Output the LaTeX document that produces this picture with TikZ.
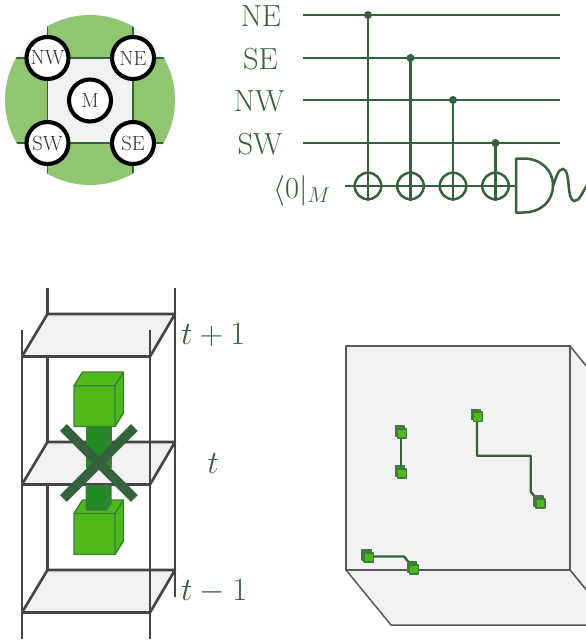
\RequirePackage{fix-cm}
\documentclass[tikz,border=0pt]{standalone}
\definecolor{wire}{HTML}{35613C}
\definecolor{plate}{HTML}{F2F2F2}
\definecolor{leaf}{HTML}{90C572}
\definecolor{frame}{HTML}{444444}
\definecolor{cubeG}{HTML}{4DB818}
\definecolor{cubeE}{HTML}{3F7A3F}
\definecolor{colG}{HTML}{228B22}
\tikzset{
  qubit/.style={circle,draw=black,line width=4.1pt,fill=white,minimum size=42pt,inner sep=0pt,text=black!80,font=\fontsize{20.5}{21}\selectfont},
  wireline/.style={draw=wire,line width=2.5pt},
  ctrl/.style={circle,fill=wire,inner sep=0pt,minimum size=8pt},
  xorgate/.style={circle,draw=wire,line width=2.5pt,inner sep=0pt,minimum size=26.5pt},
  biglabel/.style={text=wire,inner sep=0pt,font=\fontsize{30.5}{31}\selectfont},
  timelabel/.style={text=wire,inner sep=0pt,font=\fontsize{32.5}{33}\selectfont},
  plane/.style={fill=plate,draw=frame,line width=2.6pt,line join=round},
  post/.style={draw=frame,line width=2.6pt},
  cubeface/.style={fill=cubeG,draw=cubeE,line width=1.4pt,line join=round},
  colface/.style={fill=colG,draw=cubeE,line width=1.4pt,line join=round},
  boxface/.style={fill=plate,draw=black!65,line width=1.5pt,line join=round},
  route/.style={draw=wire,line width=2.4pt,line join=round},
  mini/.style={fill=cubeG,draw=cubeE,line width=1.4pt,line join=round},
  minihalo/.style={fill=cubeE,draw=cubeE,line width=1.4pt,line join=round},
  cross/.style={draw=wire,line width=9.5pt},
}
\newcommand{\minicube}[2]{%
  \filldraw[minihalo] (#1-6.6,#2-7.4) rectangle (#1+2.6,#2+2.6);
  \filldraw[mini] (#1-4.6,#2-4.6) rectangle (#1+4.6,#2+4.6);}
\begin{document}
\begin{tikzpicture}[x=1pt,y=-1pt]
\useasboundingbox (0,0) rectangle (586,643);
\clip (0,0) rectangle (586,643);
% ---- top left disk
\begin{scope}
  \clip (90,100) circle (85);
  \fill[plate] (0,0) rectangle (180,190);
  \fill[leaf] (47.5,0) rectangle (133,58);
  \fill[leaf] (47.5,143) rectangle (133,190);
  \fill[leaf] (0,58) rectangle (47.5,143);
  \fill[leaf] (133,58) rectangle (180,143);
  \draw[wire,line width=1.3pt] (47.5,0) -- (47.5,190) (133,0) -- (133,190) (0,58) -- (180,58) (0,143) -- (180,143);
\end{scope}
\node[qubit] (nw) at (47.5,58) {NW};
\node[qubit] (ne) at (133,58) {NE};
\node[qubit] (sw) at (47.5,143) {SW};
\node[qubit] (se) at (133,143) {SE};
\node[qubit] (m) at (90,100.5) {M};
% ---- circuit
\node[biglabel,anchor=base] (lne) at (261,26.7) {NE};
\node[biglabel,anchor=base] (lse) at (260.5,69) {SE};
\node[biglabel,anchor=base] (lnw) at (259,111.7) {NW};
\node[biglabel,anchor=base] (lsw) at (260,154) {SW};
\node[biglabel,anchor=base] (lm) at (302,198) {$\langle 0|_M$};
\coordinate (ane) at (303,15); \coordinate (bne) at (560,15);
\coordinate (ase) at (303,58); \coordinate (bse) at (560,58);
\coordinate (anw) at (303,100); \coordinate (bnw) at (560,100);
\coordinate (asw) at (303,143); \coordinate (bsw) at (560,143);
\coordinate (am) at (345,186);
\draw[wireline] (ane) -- (bne);
\draw[wireline] (ase) -- (bse);
\draw[wireline] (anw) -- (bnw);
\draw[wireline] (asw) -- (bsw);
\node[ctrl] (c1) at (368,15) {};
\node[ctrl] (c2) at (410.5,58) {};
\node[ctrl] (c3) at (453,100) {};
\node[ctrl] (c4) at (495.5,143) {};
\node[xorgate] (x1) at (368,186) {};
\node[xorgate] (x2) at (410.5,186) {};
\node[xorgate] (x3) at (453,186) {};
\node[xorgate] (x4) at (495.5,186) {};
\draw[wireline] (c1.center) -- (x1.south);
\draw[wireline] (c2.center) -- (x2.south);
\draw[wireline] (c3.center) -- (x3.south);
\draw[wireline] (c4.center) -- (x4.south);
\coordinate (gate) at (516,186);
\draw[wireline] (am) -- (gate);
\draw[wireline,line join=round] (516,158.5) -- (523,158.5) .. controls (541,158.5) and (553,170) .. (553,185.5) .. controls (553,201) and (541,212.5) .. (523,212.5) -- (516,212.5) -- cycle;
\draw[wireline] (553,186) .. controls (556,178) and (558,169) .. (563,169) .. controls (571,169) and (566,201) .. (574.5,201) .. controls (580,201) and (582,192) .. (588,184);
% ---- time slices
\draw[post] (47.5,288) -- (47.5,570);
\draw[post] (175,288) -- (175,597);
\path[plane] (47.5,570) -- (175,570) -- (150,612.5) -- (22,612.5) -- cycle;
\path[plane] (47.5,442) -- (175,442) -- (150,484.5) -- (22,484.5) -- cycle;
\path[plane] (47.5,314) -- (175,314) -- (150,356.5) -- (22,356.5) -- cycle;
\draw[post] (175,288) -- (175,597);
% lower cube and column
\path[cubeface] (74,513.5) -- (82.5,500) -- (123.5,500) -- (123.5,541) -- (115,554.5) -- (74,554.5) -- cycle;
\draw[cubeE,line width=1.4pt] (74,513.5) -- (115,513.5) -- (115,554.5) (115,513.5) -- (123.5,500);
\path[colface] (86.3,485.8) -- (111,485.8) -- (111,503) -- (107,510) -- (86.3,510) -- cycle;
\draw[cubeE,line width=1.4pt] (107,485.8) -- (107,510);
% upper column, running behind the plane
\begin{scope}
  \clip (0,420) rectangle (200,467);
  \path[colface] (86.3,420) -- (111,420) -- (111,480) -- (86.3,480) -- cycle;
  \draw[cubeE,line width=1.4pt] (107,420) -- (107,480);
\end{scope}
% upper cube
\path[cubeface] (74,385.7) -- (82.5,372) -- (123.5,372) -- (123.5,413) -- (115,426.5) -- (74,426.5) -- cycle;
\draw[cubeE,line width=1.4pt] (74,385.7) -- (115,385.7) -- (115,426.5) (115,385.7) -- (123.5,372);
% front posts
\draw[post] (22,330) -- (22,639);
\draw[post] (150,330) -- (150,639);
% cross
\coordinate (xa) at (63.3,427.5); \coordinate (xb) at (134.3,498.5);
\coordinate (xc) at (134.3,427.5); \coordinate (xd) at (63.3,498.5);
\draw[cross] (xa) -- (xb);
\draw[cross] (xc) -- (xd);
\node[timelabel,anchor=base west] (tp) at (181,344) {$t+1$};
\node[timelabel,anchor=base] (t0) at (213,473) {$t$};
\node[timelabel,anchor=base west] (tm) at (181,600) {$t-1$};
% ---- lattice box
\path[boxface] (570,346) -- (615,401.5) -- (615,625) -- (570,570) -- cycle;
\path[boxface] (346,570) -- (570,570) -- (615,625) -- (391,625) -- cycle;
\path[boxface] (346,346) rectangle (570,570);
\coordinate (r1a) at (400.8,433.5); \coordinate (r1b) at (400.8,473.5);
\draw[route] (r1a) -- (r1b);
\draw[route] (373,556.5) -- (404,556.5) -- (411,565);
\draw[route] (477,416.5) -- (477,455.7) -- (530.7,455.7) -- (530.7,491.7) -- (537,499);
\minicube{401.8}{433.5}
\minicube{401.8}{473.5}
\minicube{368.7}{557.5}
\minicube{414}{569.5}
\minicube{478}{416.7}
\minicube{540.5}{503.5}
\end{tikzpicture}
\end{document}
